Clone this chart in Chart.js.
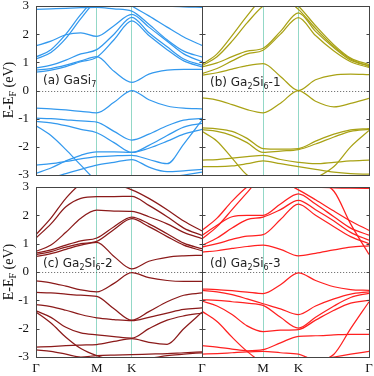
<!DOCTYPE html>
<html><head><meta charset="utf-8">
<script src="https://cdn.jsdelivr.net/npm/chart.js@4.4.0/dist/chart.umd.min.js"></script>
<style>
html,body{margin:0;padding:0;background:#fff;}
#wrap{position:relative;width:374px;height:376px;overflow:hidden;background:#fff;}
canvas{position:absolute;left:0;top:0;}
.lab{position:absolute;font-family:"DejaVu Sans",sans-serif;font-size:12px;color:#222;white-space:nowrap;line-height:1;}
.lab sub{font-size:8px;vertical-align:-3px;line-height:0;}
.ytitle{position:absolute;font-family:"Liberation Serif",serif;font-size:14px;color:#111;white-space:nowrap;line-height:1;transform:translate(-50%,-50%) rotate(-90deg);}
.ytitle sub{font-size:10px;vertical-align:-3px;line-height:0;}
</style></head><body>
<div id="wrap">
<canvas id="ca" width="374" height="376"></canvas>
<canvas id="cb" width="374" height="376"></canvas>
<canvas id="cc" width="374" height="376"></canvas>
<canvas id="cd" width="374" height="376"></canvas>
<div class="lab" style="left:43px;top:74px">(a) GaSi<sub>7</sub></div>
<div class="lab" style="left:210px;top:76px">(b) Ga<sub>2</sub>Si<sub>6</sub>-1</div>
<div class="lab" style="left:43px;top:257px">(c) Ga<sub>2</sub>Si<sub>6</sub>-2</div>
<div class="lab" style="left:210px;top:257px">(d) Ga<sub>2</sub>Si<sub>6</sub>-3</div>
<div class="ytitle" style="left:9px;top:90px">E-E<sub>F</sub> (eV)</div>
<div class="ytitle" style="left:9px;top:272px">E-E<sub>F</sub> (eV)</div>
</div>
<script>
// k-path positions (fraction of path Γ-M-K-Γ)
const kPath = [0, 0.09, 0.18, 0.27, 0.366, 0.47, 0.577, 0.68, 0.79, 0.89, 1.0];
const kMarks = [0, 0.366, 0.577, 1.0];
const kLabels = ['Γ', 'M', 'K', 'Γ'];
const kLabelsLeft = ['Γ', 'M', 'K', ''];
const eTicks = [-3, -2, -1, 0, 1, 2, 3];

// (a) GaSi7
const bandsA = [
  [0.72, 0.78, 0.9, 1.05, 1.2, 0.68, 0.29, 0.58, 0.72, 0.75, 0.75],
  [0.65, 0.72, 0.85, 1.02, 1.18, 1.8, 2.47, 1.95, 1.45, 1.05, 0.84],
  [0.8, 0.9, 1.08, 1.3, 1.45, 2.0, 2.6, 2.05, 1.55, 1.12, 0.9],
  [1.59, 1.75, 1.98, 2.05, 1.92, 2.3, 2.7, 2.25, 1.75, 1.3, 1.02],
  [1.12, 1.35, 1.85, 2.55, 3.2, 3.4, 3.0, 2.65, 2.25, 1.9, 1.6],
  [2.88, 2.9, 2.92, 2.94, 2.95, 2.9, 2.82, 2.35, 1.8, 1.4, 1.19],
  [1.19, 1.45, 2.0, 2.7, 3.3, 3.5, 3.3, 3.1, 3.0, 2.97, 2.95],
  [-0.63, -0.65, -0.69, -0.74, -0.79, -0.42, 0.0, -0.33, -0.55, -0.63, -0.65],
  [-0.98, -1.0, -1.04, -1.08, -1.12, -1.45, -1.76, -1.55, -1.25, -1.05, -0.99],
  [-1.1, -1.15, -1.25, -1.38, -1.5, -1.85, -2.2, -1.95, -1.6, -1.3, -1.17],
  [-1.25, -1.6, -2.1, -2.65, -3.2, -3.4, -3.3, -3.2, -3.1, -3.0, -2.9],
  [-2.65, -2.6, -2.52, -2.43, -2.35, -2.32, -2.3, -2.45, -2.6, -1.9, -1.05],
  [-2.94, -2.75, -2.5, -2.3, -2.18, -2.18, -2.2, -2.05, -1.8, -1.55, -1.38],
  [-3.2, -3.1, -2.95, -2.8, -2.65, -2.55, -2.45, -2.72, -2.88, -2.85, -2.8]
];
// (b) Ga2Si6-1
const bandsB = [
  [0.55, 0.63, 0.76, 0.88, 0.95, 0.5, 0.0, 0.38, 0.55, 0.58, 0.56],
  [0.6, 0.78, 1.05, 1.3, 1.43, 2.0, 2.59, 1.95, 1.4, 1.02, 0.82],
  [0.84, 0.98, 1.2, 1.4, 1.5, 2.1, 2.76, 2.1, 1.52, 1.08, 0.88],
  [0.92, 1.3, 1.95, 2.65, 3.3, 3.5, 3.0, 2.3, 1.62, 1.15, 0.92],
  [0.88, 1.2, 1.75, 2.4, 3.0, 3.3, 2.88, 2.2, 1.56, 1.12, 0.85],
  [-0.26, -0.34, -0.5, -0.68, -0.79, -0.45, 0.0, -0.38, -0.58, -0.46, -0.28],
  [-1.33, -1.36, -1.45, -1.7, -2.06, -2.08, -2.06, -1.8, -1.55, -1.4, -1.35],
  [-1.39, -1.45, -1.6, -1.85, -2.2, -2.15, -2.1, -1.9, -1.65, -1.45, -1.38],
  [-1.45, -1.8, -2.4, -3.0, -3.3, -3.3, -3.3, -3.1, -2.7, -2.0, -1.42],
  [-2.47, -2.45, -2.4, -2.35, -2.3, -2.45, -2.55, -2.6, -2.55, -2.5, -2.47],
  [-2.7, -2.7, -2.68, -2.6, -2.5, -2.6, -2.7, -2.8, -2.9, -2.95, -2.97]
];
// (c) Ga2Si6-2
const bandsC = [
  [0.55, 0.65, 0.8, 0.95, 1.05, 0.55, 0.11, 0.38, 0.52, 0.57, 0.59],
  [0.61, 0.72, 0.88, 1.0, 1.08, 1.5, 1.88, 1.6, 1.25, 0.95, 0.75],
  [0.67, 0.78, 0.95, 1.1, 1.2, 1.6, 1.94, 1.7, 1.35, 1.02, 0.82],
  [0.73, 0.95, 1.4, 1.9, 2.18, 2.15, 2.14, 1.95, 1.7, 1.4, 1.18],
  [1.2, 1.7, 2.3, 2.6, 2.66, 2.66, 2.67, 2.35, 1.95, 1.55, 1.29],
  [1.32, 1.9, 2.6, 3.1, 3.2, 3.1, 2.9, 2.6, 2.2, 1.8, 1.45],
  [-0.31, -0.38, -0.5, -0.63, -0.7, -0.4, -0.02, -0.2, -0.3, -0.33, -0.33],
  [-0.72, -0.74, -0.78, -0.82, -0.86, -1.3, -1.7, -1.4, -1.05, -0.82, -0.74],
  [-1.15, -1.22, -1.35, -1.5, -1.62, -1.68, -1.72, -1.6, -1.45, -1.32, -1.27],
  [-1.37, -1.6, -1.95, -2.15, -2.22, -2.28, -2.33, -2.0, -1.7, -1.55, -1.45],
  [-1.41, -1.8, -2.3, -2.7, -2.95, -3.1, -3.1, -3.05, -2.95, -2.9, -2.85],
  [-2.65, -2.63, -2.6, -2.58, -2.56, -2.45, -2.35, -2.48, -2.55, -2.0, -1.42],
  [-2.75, -2.8, -2.9, -3.0, -2.95, -2.93, -2.92, -2.9, -2.88, -2.85, -2.82]
];
// (d) Ga2Si6-3
const bandsD = [
  [0.7, 0.75, 0.83, 0.9, 0.95, 0.8, 0.57, 0.66, 0.78, 0.88, 0.92],
  [0.88, 1.0, 1.15, 1.27, 1.32, 1.85, 2.4, 2.0, 1.6, 1.25, 1.0],
  [0.94, 1.2, 1.55, 1.85, 1.94, 2.2, 2.53, 2.2, 1.8, 1.4, 1.12],
  [1.29, 1.65, 1.95, 2.0, 2.0, 2.4, 2.76, 2.4, 1.95, 1.55, 1.3],
  [1.47, 1.9, 2.5, 3.0, 3.3, 3.2, 2.9, 2.55, 2.15, 1.8, 1.47],
  [1.17, 1.6, 2.2, 2.8, 3.4, 3.5, 3.4, 3.2, 2.85, 1.7, 0.62],
  [3.3, 3.3, 3.2, 3.1, 3.05, 3.05, 3.1, 3.0, 2.97, 2.96, 2.95],
  [-0.6, -0.62, -0.66, -0.71, -0.76, -0.45, -0.03, -0.3, -0.52, -0.62, -0.65],
  [-0.65, -0.7, -0.8, -0.95, -1.12, -1.3, -1.5, -1.2, -0.95, -0.78, -0.7],
  [-0.98, -1.0, -1.05, -1.1, -1.18, -1.6, -1.98, -1.6, -1.2, -0.9, -0.75],
  [-1.03, -1.2, -1.5, -1.9, -2.1, -2.05, -2.03, -1.7, -1.35, -1.1, -1.0],
  [-1.39, -1.75, -2.3, -2.8, -3.2, -3.3, -3.2, -3.1, -3.0, -2.9, -2.8],
  [-2.6, -2.65, -2.72, -2.78, -2.74, -2.5, -2.27, -2.25, -2.22, -2.2, -2.2],
  [-2.9, -2.88, -2.85, -2.82, -2.8, -2.85, -2.9, -3.1, -2.9, -2.0, -1.05]
];

const vLineColor = '#93d8c7';
const serif = '"Liberation Serif", "Times New Roman", serif';

const framePlugin = {
  id: 'frame',
  beforeDatasetsDraw(chart) {
    const {ctx, chartArea: a, scales: {y}} = chart;
    const y0 = Math.round(y.getPixelForValue(0)) + 0.5;
    ctx.save();
    ctx.strokeStyle = '#555';
    ctx.lineWidth = 0.8;
    ctx.setLineDash([1.2, 1.8]);
    ctx.beginPath(); ctx.moveTo(a.left, y0); ctx.lineTo(a.right, y0); ctx.stroke();
    ctx.restore();
  },
  afterDatasetsDraw(chart) {
    const {ctx, chartArea: a, scales: {y}} = chart;
    ctx.save();
    ctx.strokeStyle = '#444';
    ctx.lineWidth = 1;
    const L = Math.round(a.left) + 0.5, T = Math.round(a.top) + 0.5;
    const R = Math.round(a.right) + 0.5, B = Math.round(a.bottom) + 0.5;
    ctx.strokeRect(L, T, R - L, B - T);
    ctx.beginPath();
    eTicks.forEach(v => {
      if (v === -3 || v === 3) return;
      const p = Math.round(y.getPixelForValue(v)) + 0.5;
      ctx.moveTo(L, p); ctx.lineTo(L + 3, p);
      ctx.moveTo(R - 3, p); ctx.lineTo(R, p);
    });
    ctx.stroke();
    ctx.restore();
  }
};

function makeChart(id, bands, color, opt) {
  const datasets = bands.map(vals => ({
    data: vals.map((e, i) => ({x: kPath[i], y: e})),
    borderColor: color,
    borderWidth: 1.25,
    pointRadius: 0,
    fill: false,
    cubicInterpolationMode: 'monotone'
  }));
  return new Chart(document.getElementById(id), {
    type: 'line',
    data: {datasets},
    options: {
      responsive: false,
      animation: false,
      events: [],
      layout: {padding: opt.pad},
      plugins: {legend: {display: false}, tooltip: {enabled: false}},
      scales: {
        x: {
          type: 'linear', min: 0, max: 1,
          afterBuildTicks: s => { s.ticks = kMarks.map(v => ({value: v})); },
          ticks: {
            display: opt.showX, autoSkip: false, maxRotation: 0, minRotation: 0, padding: 4,
            font: {family: serif, size: 13}, color: '#111',
            callback: (v, i) => opt.xLabels[i]
          },
          grid: {
            drawTicks: false, lineWidth: 1,
            color: c => (c.tick && c.tick.value > 0 && c.tick.value < 1) ? vLineColor : 'rgba(0,0,0,0)'
          },
          border: {display: false},
          afterFit: s => { s.height = opt.showX ? 19 : 0; s.paddingLeft = 0; s.paddingRight = 0; }
        },
        y: {
          type: 'linear', min: -3, max: 3,
          afterBuildTicks: s => { s.ticks = eTicks.map(v => ({value: v})); },
          ticks: {
            display: opt.showY, padding: 7,
            font: {family: serif, size: 13}, color: '#111',
            callback: v => String(v)
          },
          grid: {display: false, drawTicks: false},
          border: {display: false},
          afterFit: s => { s.width = opt.showY ? 36 : 0; s.paddingTop = 0; s.paddingBottom = 0; }
        }
      }
    },
    plugins: [framePlugin]
  });
}

makeChart('ca', bandsA, '#3399ee', {pad: {left: 0, right: 172, top: 6, bottom: 201}, showX: false, showY: true, xLabels: kLabels});
makeChart('cb', bandsB, '#a9a215', {pad: {left: 202, right: 5, top: 6, bottom: 201}, showX: false, showY: false, xLabels: kLabels});
makeChart('cc', bandsC, '#8b1a1a', {pad: {left: 0, right: 172, top: 187, bottom: 0}, showX: true, showY: true, xLabels: kLabelsLeft});
makeChart('cd', bandsD, '#ff2020', {pad: {left: 202, right: 5, top: 187, bottom: 0}, showX: true, showY: false, xLabels: kLabels});
</script>
</body></html>
